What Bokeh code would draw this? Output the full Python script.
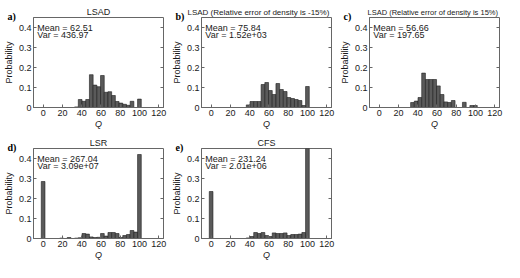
from bokeh.plotting import figure
from bokeh.layouts import column, row
from bokeh.models import Label, FixedTicker, Range1d, Title, LinearAxis
from bokeh.embed import file_html
from bokeh.resources import INLINE

# bin centres of the histograms (Q)
centers = [0, 3.85, 7.69, 11.54, 15.38, 19.23, 23.08, 26.92, 30.77, 34.62, 38.46,
           42.31, 46.15, 50.0, 53.85, 57.69, 61.54, 65.38, 69.23, 73.08, 76.92,
           80.77, 84.62, 88.46, 92.31, 96.15, 100.0]
bin_width = 3.85

prob_a = [0, 0, 0, 0, 0, 0, 0, 0, 0, 0.003, 0.04, 0.031, 0.04, 0.164, 0.112, 0.104,
          0.16, 0.076, 0.079, 0.06, 0.03, 0.022, 0.016, 0.011, 0.031, 0, 0.042]
prob_b = [0, 0, 0, 0, 0, 0, 0, 0, 0, 0, 0.013, 0.03, 0.03, 0.03, 0.115, 0.125,
          0.085, 0.065, 0.12, 0.09, 0.08, 0.05, 0.045, 0.04, 0.035, 0.01, 0.105]
prob_c = [0, 0, 0, 0, 0, 0, 0, 0, 0, 0.025, 0.032, 0.05, 0.172, 0.14, 0.14, 0.14,
          0.108, 0.065, 0.028, 0.025, 0.035, 0, 0, 0.026, 0, 0.01, 0.01]
prob_d = [0.285, 0, 0, 0, 0, 0.002, 0, 0.005, 0, 0.002, 0.004, 0.025, 0.022, 0.008,
          0.005, 0.006, 0.025, 0.012, 0.03, 0.03, 0.025, 0.005, 0.015, 0.02, 0.04,
          0.032, 0.42]
prob_e = [0.235, 0, 0, 0, 0, 0, 0, 0, 0, 0, 0.003, 0.01, 0.03, 0.025, 0.03, 0.015,
          0.01, 0.028, 0.025, 0.025, 0.028, 0.015, 0.02, 0.02, 0.022, 0.03, 0.45]

panel_letters = ["a)", "b)", "c)", "d)", "e)"]
titles = ["LSAD", "LSAD (Relative error of density is -15%)",
          "LSAD (Relative error of density is 15%)", "LSR", "CFS"]
means = ["62.51", "75.84", "56.66", "267.04", "231.24"]
variances = ["436.97", "1.52e+03", "197.65", "3.09e+07", "2.01e+06"]
x_ticks = [0, 20, 40, 60, 80, 100, 120]
y_ticks = [0, 0.1, 0.2, 0.3, 0.4]

FONT = "Liberation Sans"
TXT = "#1a1a1a"
AXC = "#666666"


def panel(letter, title, probs, mean, var, title_size="9px", title_offset=None):
    p = figure(width=168, height=131, output_backend="svg", toolbar_location=None,
               x_range=Range1d(-10, 125), y_range=Range1d(0, 0.45),
               min_border_left=26, min_border_right=5, min_border_top=17,
               min_border_bottom=21)
    p.title.text = title
    p.title.text_font = FONT
    p.title.text_font_size = title_size
    p.title.text_font_style = "normal"
    p.title.text_color = TXT
    p.title.standoff = -7
    if title_offset is None:
        p.title.align = "center"
    else:
        p.title.align = "left"
        p.title.offset = title_offset
    p.grid.visible = False
    p.outline_line_color = AXC
    p.outline_line_width = 1
    p.background_fill_color = "white"
    p.border_fill_color = "white"

    xs = [c for c, v in zip(centers, probs) if v > 0]
    ys = [v for v in probs if v > 0]
    p.vbar(x=xs, top=ys, width=bin_width, fill_color="#5a5a5a",
           line_color="#1e1e1e", line_width=0.6)

    for ax in (p.xaxis[0], p.yaxis[0]):
        ax.axis_line_color = AXC
        ax.major_tick_line_color = AXC
        ax.major_tick_in = 3
        ax.major_tick_out = 0
        ax.minor_tick_line_color = None
        ax.major_label_text_font = FONT
        ax.major_label_text_font_size = "9px"
        ax.major_label_text_color = TXT
        ax.axis_label_text_font = FONT
        ax.axis_label_text_font_size = "9px"
        ax.axis_label_text_color = TXT
    p.xaxis.ticker = FixedTicker(ticks=x_ticks)
    p.yaxis.ticker = FixedTicker(ticks=y_ticks)
    p.yaxis.major_label_overrides = {0: "0"}
    p.xaxis.axis_label = "Q"
    p.xaxis.axis_label_text_font_style = "italic"
    p.xaxis.major_label_standoff = 2
    p.xaxis.axis_label_standoff = 0
    p.yaxis.axis_label = "Probability"
    p.yaxis.axis_label_text_font_style = "normal"
    p.yaxis.major_label_standoff = 2
    p.yaxis.axis_label_standoff = 2

    # tick marks on the right edge (box on)
    rax = LinearAxis(ticker=FixedTicker(ticks=y_ticks), axis_line_color=None,
                     major_tick_line_color=AXC, major_tick_in=3, major_tick_out=0,
                     minor_tick_line_color=None, major_label_text_font_size="0px",
                     major_label_standoff=0, major_label_text_alpha=0)
    p.add_layout(rax, "right")

    p.add_layout(Title(text=letter, align="left", offset=-26,
                       text_font="Liberation Serif", text_font_style="bold",
                       text_font_size="10px", text_color="black", standoff=-9),
                 "above")
    p.add_layout(Label(x=-6, y=0.374, text="Mean = " + mean, text_font=FONT,
                       text_font_size="9px", text_color=TXT, text_baseline="bottom"))
    p.add_layout(Label(x=-6, y=0.336, text="Var = " + var, text_font=FONT,
                       text_font_size="9px", text_color=TXT, text_baseline="bottom"))
    return p


pa = panel(panel_letters[0], titles[0], prob_a, means[0], variances[0])
pb = panel(panel_letters[1], titles[1], prob_b, means[1], variances[1],
           title_size="8px", title_offset=-14)
pc = panel(panel_letters[2], titles[2], prob_c, means[2], variances[2],
           title_size="7.5px", title_offset=-2)
pd = panel(panel_letters[3], titles[3], prob_d, means[3], variances[3])
pe = panel(panel_letters[4], titles[4], prob_e, means[4], variances[4])

layout = column(row(pa, pb, pc), row(pd, pe))

with open("out.html", "w") as f:
    f.write(file_html(layout, INLINE))
